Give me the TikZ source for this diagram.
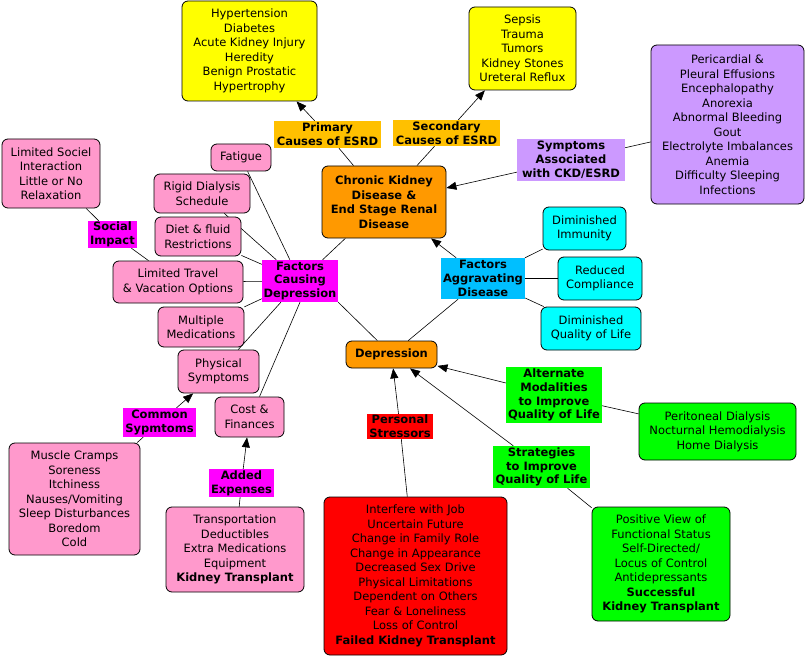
\documentclass[tikz,border=0pt]{standalone}
\usepackage{fontspec}
\setmainfont{DejaVu Sans}
\usetikzlibrary{arrows.meta,backgrounds}
\definecolor{cyel}{HTML}{FFFF00}
\definecolor{cgold}{HTML}{FFC000}
\definecolor{cpurp}{HTML}{CC99FF}
\definecolor{corange}{HTML}{FF9900}
\definecolor{cpink}{HTML}{FF99CC}
\definecolor{cmag}{HTML}{FF00FF}
\definecolor{ccyan}{HTML}{00FFFF}
\definecolor{cblue}{HTML}{00BFFF}
\definecolor{cgreen}{HTML}{00FF00}
\definecolor{cred}{HTML}{FF0000}
\begin{document}
\begin{tikzpicture}[x=1pt,y=-1pt,
  font=\fontsize{11.5}{14.5}\selectfont,
  box/.style={draw=black, line width=0.8pt, rounded corners=6pt, align=center, inner sep=0pt},
  lab/.style={align=center, inner sep=0pt, font=\fontsize{11.5}{13.8}\selectfont\bfseries},
  arr/.style={line width=0.6pt, -{Triangle[length=10pt,width=8pt]}},
  con/.style={line width=0.6pt}]
\useasboundingbox (0,0) rectangle (806,658);

% main boxes
\node[box, fill=cyel, minimum width=135pt, minimum height=100pt] (prim) at (249.5,51)
  {Hypertension\\Diabetes\\Acute Kidney Injury\\Heredity\\Benign Prostatic\\Hypertrophy};
\node[box, fill=cyel, minimum width=107pt, minimum height=83pt] (sec) at (522.5,48.5)
  {Sepsis\\Trauma\\Tumors\\Kidney Stones\\Ureteral Reflux};
\node[box, fill=cpurp, minimum width=153pt, minimum height=159pt] (symp) at (727.5,124.5)
  {Pericardial \&\\Pleural Effusions\\Encephalopathy\\Anorexia\\Abnormal Bleeding\\Gout\\Electrolyte Imbalances\\Anemia\\Difficulty Sleeping\\Infections};
\node[box, fill=corange, minimum width=124pt, minimum height=72pt, font=\fontsize{11.5}{14.5}\selectfont\bfseries] (ckd) at (384,202)
  {Chronic Kidney\\Disease \&\\End Stage Renal\\Disease};

% labels
\node[lab, fill=cgold, minimum width=107pt, minimum height=27pt] (plab) at (327.5,134.5) {Primary\\Causes of ESRD};
\node[lab, fill=cgold, minimum width=107pt, minimum height=26pt] (slab) at (446.5,133) {Secondary\\Causes of ESRD};
\node[lab, fill=cpurp, minimum width=108pt, minimum height=42pt] (symlab) at (571,160) {Symptoms\\Associated\\with CKD/ESRD};

% pink boxes
\node[box, fill=cpink, minimum width=60pt, minimum height=27pt] (fat) at (241,157.5) {Fatigue};
\node[box, fill=cpink, minimum width=96pt, minimum height=39pt] (rigid) at (202,193.5) {Rigid Dialysis\\Schedule};
\node[box, fill=cpink, minimum width=86pt, minimum height=39pt] (diet) at (198,236.5) {Diet \& fluid\\Restrictions};
\node[box, fill=cpink, minimum width=130pt, minimum height=42pt] (travel) at (178,282) {Limited Travel\\\& Vacation Options};
\node[box, fill=cpink, minimum width=86pt, minimum height=40pt] (meds) at (201,327) {Multiple\\Medications};
\node[lab, fill=cmag, minimum width=76pt, minimum height=42pt] (fcd) at (300,281) {Factors\\Causing\\Depression};
\node[lab, fill=cmag, minimum width=49pt, minimum height=27pt] (social) at (112.5,234.5) {Social\\Impact};
\node[box, fill=cpink, minimum width=98pt, minimum height=69pt] (sociel) at (51,173.5) {Limited Sociel\\Interaction\\Little or No\\Relaxation};
\node[box, fill=cpink, minimum width=81pt, minimum height=43pt] (phys) at (218.5,371.5) {Physical\\Symptoms};
\node[box, fill=cpink, minimum width=69pt, minimum height=40pt] (cost) at (249.5,417) {Cost \&\\Finances};
\node[lab, fill=cmag, minimum width=73pt, minimum height=29pt] (comlab) at (159.5,422.5) {Common\\Sypmtoms};
\node[box, fill=cpink, minimum width=131pt, minimum height=112pt] (muscle) at (74.5,499)
  {Muscle Cramps\\Soreness\\Itchiness\\Nauses/Vomiting\\Sleep Disturbances\\Boredom\\Cold};
\node[lab, fill=cmag, minimum width=65pt, minimum height=28pt] (added) at (241.5,483) {Added\\Expenses};
\node[box, fill=cpink, minimum width=138pt, minimum height=85pt] (transp) at (235,549.5)
  {Transportation\\Deductibles\\Extra Medications\\Equipment\\\textbf{Kidney Transplant}};

% depression and aggravating
\node[box, fill=corange, minimum width=91pt, minimum height=27pt, font=\fontsize{11.5}{14.5}\selectfont\bfseries] (dep) at (391.5,354.5) {Depression};
\node[lab, fill=cblue, minimum width=84pt, minimum height=41pt] (fa) at (483,278.5) {Factors\\Aggravating\\Disease};
\node[box, fill=ccyan, minimum width=83pt, minimum height=43pt] (imm) at (584.5,228.5) {Diminished\\Immunity};
\node[box, fill=ccyan, minimum width=84pt, minimum height=43pt] (redc) at (600,278.5) {Reduced\\Compliance};
\node[box, fill=ccyan, minimum width=100pt, minimum height=43pt] (qol) at (591,328.5) {Diminished\\Quality of Life};

% lower right
\node[lab, fill=cgreen, minimum width=96pt, minimum height=56pt] (alt) at (554,395) {Alternate\\Modalities\\to Improve\\Quality of Life};
\node[box, fill=cgreen, minimum width=157pt, minimum height=57pt] (perit) at (717.5,431.5) {Peritoneal Dialysis\\Nocturnal Hemodialysis\\Home Dialysis};
\node[lab, fill=cred, minimum width=66pt, minimum height=25pt] (perslab) at (400,426.5) {Personal\\Stressors};
\node[box, fill=cred, minimum width=183pt, minimum height=158pt] (redbox) at (415.5,576)
  {Interfere with Job\\Uncertain Future\\Change in Family Role\\Change in Appearance\\Decreased Sex Drive\\Physical Limitations\\Dependent on Others\\Fear \& Loneliness\\Loss of Control\\\textbf{Failed Kidney Transplant}};
\node[lab, fill=cgreen, minimum width=97pt, minimum height=42pt] (strat) at (541.5,467) {Strategies\\to Improve\\Quality of Life};
\node[box, fill=cgreen, minimum width=138pt, minimum height=114pt] (pos) at (661,564)
  {Positive View of\\Functional Status\\Self-Directed/\\Locus of Control\\Antidepressants\\\textbf{Successful}\\\textbf{Kidney Transplant}};

% connectors
\begin{scope}[on background layer]
\draw[con] (ckd) -- (plab);
\draw[arr] (plab) -- (prim);
\draw[con] (ckd) -- (slab);
\draw[arr] (slab) -- (sec);
\draw[con] (symp) -- (symlab);
\draw[arr] (symlab) -- (ckd);

\draw[con] (fcd) -- (ckd);
\draw[con] (fat) -- (fcd);
\draw[con] (rigid) -- (fcd);
\draw[con] (diet) -- (fcd);
\draw[con] (travel) -- (fcd);
\draw[con] (meds) -- (fcd);
\draw[con] (fcd) -- (phys);
\draw[con] (fcd.south) -- ([xshift=10pt]cost.north);
\draw[con] (fcd.south east) -- (dep);

\draw[con] (sociel) -- (social);
\draw[con] (social) -- (travel);
\draw[con] (muscle) -- (comlab);
\draw[arr] (comlab) -- (phys);
\draw[con] (transp) -- (added);
\draw[arr] (added) -- (cost);

\draw[arr] (fa) -- (ckd);
\draw[con] (fa) -- (imm);
\draw[con] (fa) -- (redc);
\draw[con] (fa) -- (qol);
\draw[con] (dep) -- (fa);

\draw[con] (redbox) -- (perslab);
\draw[arr] (perslab) -- (dep);
\draw[con] (pos) -- (strat);
\draw[arr] (strat) -- (dep);
\draw[con] (perit) -- (alt);
\draw[arr] (alt) -- (dep);
\end{scope}
\end{tikzpicture}
\end{document}
